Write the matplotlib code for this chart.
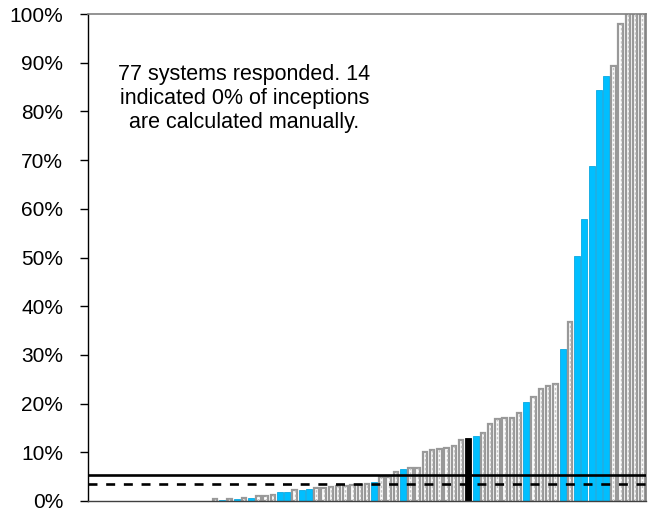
import matplotlib
matplotlib.use("Agg")
import matplotlib.pyplot as plt
import numpy as np

# Share of inceptions calculated manually, one bar per system (sorted)
values = [
    0, 0, 0, 0, 0, 0, 0, 0, 0, 0, 0, 0, 0, 0, 0, 0, 0,
    0.35, 0.15, 0.4, 0.45, 0.55, 0.7, 1.0, 1.1, 1.3, 1.9, 1.9, 2.3, 2.3, 2.5,
    2.6, 2.7, 2.9, 3.0, 3.1, 3.3, 3.3, 3.4, 4.0, 4.9, 5.0, 6.0, 6.6, 6.8, 6.8,
    10.1, 10.5, 10.7, 10.9, 11.3, 12.5, 13.0, 13.4, 14.0, 15.9, 16.8, 17.0,
    17.0, 18.0, 20.4, 21.3, 23.0, 23.7, 24.0, 31.2, 36.7, 50.3, 57.9, 68.7,
    84.3, 87.3, 89.3, 97.9, 100, 100, 100,
]
# g = other systems, b = highlighted systems, k = this system
groups = list(
    "ggggggggggggggggg"
    "gbgbgbgggbbgbbgggggggg"
    "bgggbgg"
    "ggggggkbgggggg"
    "bggggbgbbbbb"
    "ggggg"
)
solid_ref = 5.34
dashed_ref = 3.56
note = "77 systems responded. 14\nindicated 0% of inceptions\nare calculated manually."
yticks = list(range(0, 101, 10))

plt.rcParams["font.family"] = ["Liberation Sans", "DejaVu Sans"]

fig = plt.figure(figsize=(6.64, 5.25), dpi=100)
ax = fig.add_axes([88 / 664, 24 / 525, 558 / 664, 487 / 525])

x = np.arange(len(values))
vals = np.array(values, dtype=float)
grp = np.array(groups)

gray_edge = "#999999"
blue = "#00BFFF"

# hatched gray bars
mg = (grp == "g") & (vals > 0)
ax.bar(x[mg], vals[mg], width=0.62, facecolor="white", edgecolor=gray_edge,
       linewidth=1.6, zorder=2)
ax.vlines(x[mg], 0, vals[mg], colors="#c4c4c4", linewidth=1.0,
          linestyles=(0, (1.8, 1.4)), zorder=3)

# blue bars
mb = grp == "b"
ax.bar(x[mb], vals[mb], width=0.82, facecolor=blue, edgecolor="#0aa8e0",
       linewidth=0.6, zorder=2)

# black bar
mk = grp == "k"
ax.bar(x[mk], vals[mk], width=0.82, facecolor="black", edgecolor="black",
       linewidth=0.6, zorder=2)

# reference lines
ax.axhline(solid_ref, color="black", linewidth=1.9, zorder=4)
ax.axhline(dashed_ref, color="black", linewidth=1.9, linestyle=(0, (3.4, 3.3)),
           zorder=4)

ax.set_xlim(-0.5, len(values) - 0.5)
ax.set_ylim(0, 100)
ax.set_yticks(yticks)
ax.set_yticklabels([f"{t}%" for t in yticks], fontsize=15)
ax.set_xticks([])
ax.tick_params(axis="y", direction="out", length=6, width=1, pad=12)

for side in ("top", "right"):
    ax.spines[side].set_color("#808080")
    ax.spines[side].set_linewidth(1.2)
ax.spines["left"].set_color("black")
ax.spines["bottom"].set_color("#404040")
ax.spines["left"].set_linewidth(1)
ax.spines["bottom"].set_linewidth(1)

ax.text(0.280, 0.897, note, transform=ax.transAxes, ha="center", va="top",
        fontsize=15.5, linespacing=1.18)

fig.savefig("out.png", dpi=100)
